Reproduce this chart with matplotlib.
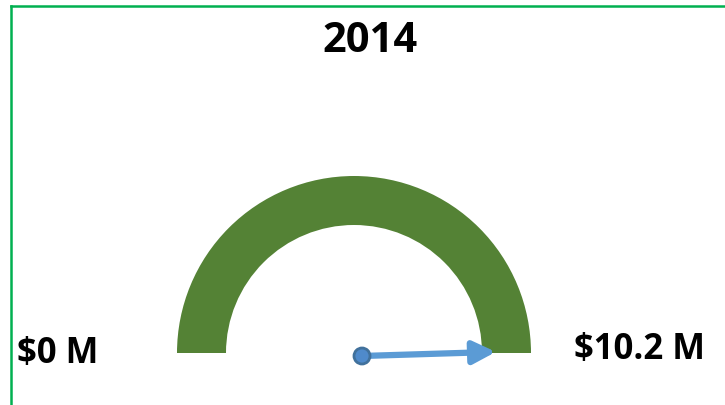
import numpy as np
import matplotlib.pyplot as plt
from matplotlib.patches import Wedge, Circle
from matplotlib.lines import Line2D

plt.rcParams['font.family'] = ['Open Sans', 'DejaVu Sans']

# data
year = "2014"
min_value = 0.0
max_value = 10.2
value = 10.1
min_label = "$0 M"
max_label = "$10.2 M"

W, H = 725, 406
fig = plt.figure(figsize=(W / 100, H / 100), dpi=100)
ax = fig.add_axes([0, 0, 1, 1])
ax.set_xlim(0, W)
ax.set_ylim(0, H)
ax.axis('off')

# gauge geometry (pixels, y from bottom)
cx, cy = 354, H - 354
r_out, r_in = 177, 128
ax.add_patch(Wedge((cx, cy), r_out, 0, 180, width=r_out - r_in,
                   facecolor='#548235', edgecolor='none'))

# needle
frac = (value - min_value) / (max_value - min_value)
ang = np.pi * (1 - frac)
ox, oy = cx + 8, cy - 3
L = 134
tip = (ox + L * np.cos(ang), oy + L * np.sin(ang))
ax.annotate('', xy=tip, xytext=(ox, oy),
            arrowprops=dict(arrowstyle='-|>,head_length=0.4,head_width=0.2', lw=4.5,
                            color='#5B9BD5', mutation_scale=34, shrinkA=0, shrinkB=0))
ax.add_patch(Circle((ox, oy), 8, facecolor='#4F8ACB', edgecolor='#41719C', lw=2, zorder=5))

# texts
ax.text(370, H - 41, year, ha='center', va='center', fontsize=30, fontweight='bold')
ax.text(17, H - 363, min_label, ha='left', va='baseline', fontsize=25, fontweight='bold')
ax.text(574, H - 359, max_label, ha='left', va='baseline', fontsize=25, fontweight='bold')

# border
fig.add_artist(Line2D([11 / W, 11 / W], [0, 1 - 7 / H], transform=fig.transFigure,
                      color='#00B050', lw=1.8))
fig.add_artist(Line2D([11 / W, 1], [1 - 7 / H, 1 - 7 / H], transform=fig.transFigure,
                      color='#00B050', lw=1.8))

fig.savefig('out.png', dpi=100)
